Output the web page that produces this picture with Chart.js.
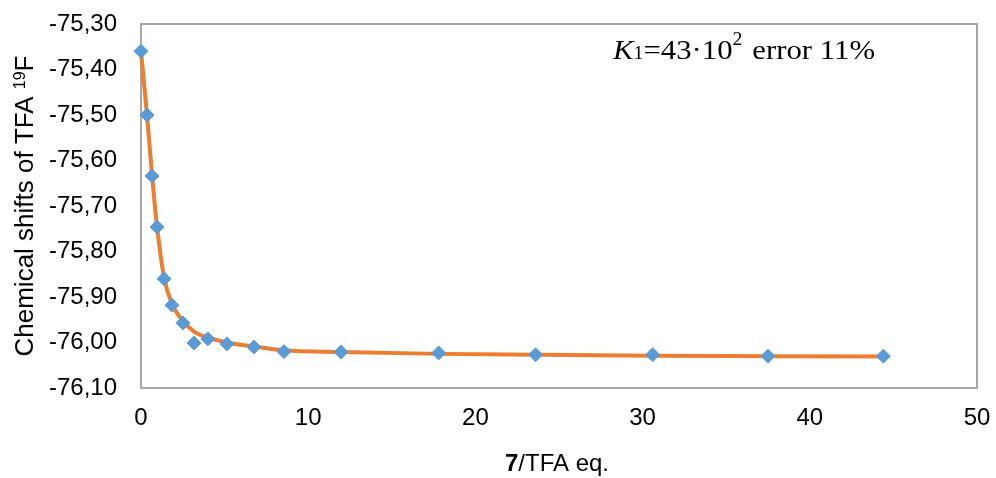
<!DOCTYPE html>
<html>
<head>
<meta charset="utf-8">
<script src="https://cdn.jsdelivr.net/npm/chart.js@4/dist/chart.umd.min.js"></script>
<style>
html,body{margin:0;padding:0;background:#fff;}
#wrap{width:996px;height:478px;}
</style>
</head>
<body>
<div id="wrap"><canvas id="c" width="996" height="478"></canvas></div>
<script>
// measured points: 7/TFA equivalents vs 19F chemical shift of TFA
const eqRatio = [0, 0.36, 0.66, 0.96, 1.38, 1.85, 2.51, 3.17, 4.0, 5.14, 6.76, 8.55, 11.96, 17.8, 23.6, 30.6, 37.5, 44.4];
const shifts  = [-75.36, -75.50, -75.634, -75.746, -75.860, -75.918, -75.957, -76.001, -75.992, -76.003, -76.010, -76.020, -76.021, -76.023, -76.027, -76.027, -76.030, -76.030];

// fitted curve
const fitEq     = [0, 0.36, 0.66, 0.96, 1.38, 1.85, 2.51, 3.17, 4.0, 5.14, 6.76, 8.55, 11.96, 17.8, 23.6, 30.6, 37.5, 44.4];
const fitShifts = [-75.36, -75.50, -75.632, -75.745, -75.857, -75.915, -75.953, -75.976, -75.989, -76.000, -76.009, -76.017, -76.021, -76.025, -76.027, -76.029, -76.030, -76.031];

// tick values
const xTicks = [0, 10, 20, 30, 40, 50];
const yTicks = [-76.10, -76.00, -75.90, -75.80, -75.70, -75.60, -75.50, -75.40, -75.30];

// texts
const yTitleParts = ['Chemical shifts of TFA ', '19', 'F'];
const xTitleParts = ['7', '/TFA eq.'];
const noteParts   = ['K', '1', '=43\u00B710', '2', ' error 11%'];

const SANS = '"Liberation Sans", Arial, sans-serif';
const SERIF = '"Liberation Serif", "Times New Roman", serif';

const decor = {
  id: 'decor',
  beforeDatasetsDraw(chart) {
    const {ctx, chartArea: a} = chart;
    ctx.save();
    ctx.strokeStyle = '#a6a6a6';
    ctx.lineWidth = 2;
    ctx.strokeRect(a.left, a.top, a.right - a.left, a.bottom - a.top);
    ctx.restore();
  },
  afterDraw(chart) {
    const {ctx, chartArea: a} = chart;
    ctx.save();
    ctx.fillStyle = '#000';
    ctx.textBaseline = 'alphabetic';
    ctx.textAlign = 'left';

    // Y axis title, rotated
    ctx.save();
    ctx.translate(33, (a.top + a.bottom) / 2);
    ctx.rotate(-Math.PI / 2);
    const big = '26px ' + SANS, small = '16px ' + SANS;
    ctx.font = big; const w0 = ctx.measureText(yTitleParts[0]).width;
    ctx.font = small; const w1 = ctx.measureText(yTitleParts[1]).width;
    ctx.font = big; const w2 = ctx.measureText(yTitleParts[2]).width;
    let x = -(w0 + w1 + w2) / 2;
    ctx.font = big; ctx.fillText(yTitleParts[0], x, 0); x += w0;
    ctx.font = small; ctx.fillText(yTitleParts[1], x, -8); x += w1;
    ctx.font = big; ctx.fillText(yTitleParts[2], x, 0);
    ctx.restore();

    // X axis title with bold "7"
    const fb = 'bold 24px ' + SANS, fn = '24px ' + SANS;
    ctx.font = fb; const b0 = ctx.measureText(xTitleParts[0]).width;
    ctx.font = fn; const b1 = ctx.measureText(xTitleParts[1]).width;
    let xs = 557 - (b0 + b1) / 2;
    ctx.font = fb; ctx.fillText(xTitleParts[0], xs, 471);
    ctx.font = fn; ctx.fillText(xTitleParts[1], xs + b0, 471);

    // annotation K1=43·10^2 error 11%
    const fK = 'italic 28px ' + SERIF, fM = '28px ' + SERIF, fS = '18px ' + SERIF;
    const fonts = [fK, fS, fM, fS, fM];
    const dy = [0, 0, 0, -14, 0];
    const gap = [0, 0, 0, 0, 2];
    const widths = noteParts.map((t, i) => { ctx.font = fonts[i]; return ctx.measureText(t).width; });
    const total = widths.reduce((s, v) => s + v, 0) + 2;
    const sx = 262 / total;
    ctx.save();
    ctx.translate(613, 59);
    ctx.scale(sx, 1);
    let nx = 0;
    noteParts.forEach((t, i) => { nx += gap[i]; ctx.font = fonts[i]; ctx.fillText(t, nx, dy[i]); nx += widths[i]; });
    ctx.restore();

    ctx.restore();
  }
};

new Chart(document.getElementById('c'), {
  type: 'scatter',
  data: {
    datasets: [
      {
        label: 'experimental',
        data: eqRatio.map((x, i) => ({x: x, y: shifts[i]})),
        pointStyle: 'rectRot',
        pointRadius: 7,
        pointBorderWidth: 1,
        backgroundColor: '#5B9BD5',
        borderColor: '#5B9BD5',
        showLine: false,
        clip: false,
        order: 0
      },
      {
        label: 'fit',
        data: fitEq.map((x, i) => ({x: x, y: fitShifts[i]})),
        showLine: true,
        pointRadius: 0,
        borderColor: '#ED7D31',
        backgroundColor: '#ED7D31',
        borderWidth: 4,
        cubicInterpolationMode: 'monotone',
        fill: false,
        clip: false,
        order: 1
      }
    ]
  },
  options: {
    responsive: false,
    animation: false,
    devicePixelRatio: 1,
    layout: {padding: {top: 24, right: 19, bottom: 0, left: 0}},
    plugins: {legend: {display: false}, tooltip: {enabled: false}},
    scales: {
      x: {
        type: 'linear', min: 0, max: 50,
        afterFit(s) { s.height = 90; s.paddingLeft = 0; s.paddingRight = 0; s.paddingTop = 0; s.paddingBottom = 0; },
        afterBuildTicks(s) { s.ticks = xTicks.map(v => ({value: v})); },
        grid: {display: false, drawTicks: false},
        border: {display: false},
        ticks: {padding: 16, color: '#000', font: {family: SANS, size: 24}, maxRotation: 0, autoSkip: false,
                callback: v => String(v)}
      },
      y: {
        type: 'linear', min: -76.10, max: -75.30,
        afterFit(s) { s.width = 141; s.paddingLeft = 0; s.paddingRight = 0; s.paddingTop = 0; s.paddingBottom = 0; },
        afterBuildTicks(s) { s.ticks = yTicks.map(v => ({value: v})); },
        grid: {display: false, drawTicks: false},
        border: {display: false},
        ticks: {padding: 24, color: '#000', font: {family: SANS, size: 24}, autoSkip: false,
                callback: v => v.toFixed(2).replace('.', ',')}
      }
    }
  },
  plugins: [decor]
});
</script>
</body>
</html>
